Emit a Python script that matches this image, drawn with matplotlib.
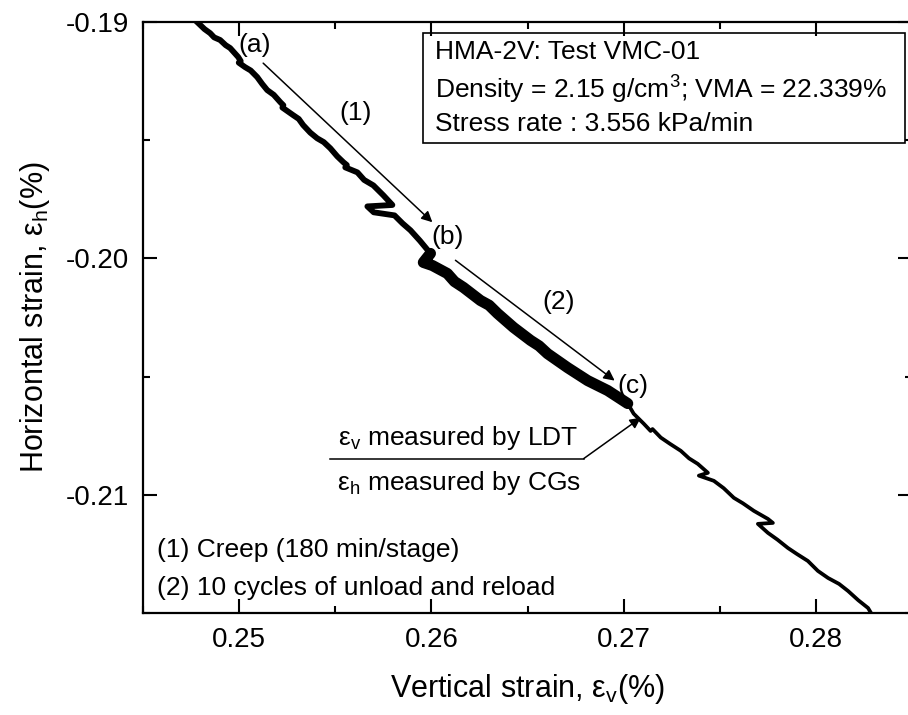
#Grafica de deformacion horizontal vs vertical (ensayo VMC-01)
import matplotlib
matplotlib.use("Agg")
import matplotlib.pyplot as plt
from matplotlib.patches import Rectangle
from matplotlib.ticker import MultipleLocator, FormatStrFormatter

#----------------------------Datos------------------------
#Etapa (1): creep, de (a) a (b)
ev_creep = [0.24775, 0.24820, 0.24849, 0.24870, 0.24901, 0.24930, 0.24953, 0.24995, 0.25008,
            0.24998, 0.25031, 0.25060, 0.25094, 0.25120, 0.25146, 0.25180, 0.25214, 0.25230,
            0.25225, 0.25281, 0.25310, 0.25333, 0.25370, 0.25406, 0.25440, 0.25474, 0.25510,
            0.25542, 0.25560, 0.25552, 0.25615, 0.25650, 0.25698, 0.2575, 0.25797, 0.25667,
            0.25700, 0.25808, 0.25850, 0.25891, 0.25940, 0.25995]
eh_creep = [-0.18995, -0.19030, -0.19047, -0.19065, -0.19076, -0.19098, -0.19110, -0.19148, -0.19165,
            -0.19172, -0.19191, -0.19205, -0.19233, -0.19262, -0.19288, -0.19308, -0.19339, -0.19352,
            -0.19362, -0.19394, -0.19410, -0.19436, -0.19468, -0.19492, -0.19508, -0.19534, -0.19568,
            -0.19593, -0.19605, -0.19615, -0.19636, -0.19668, -0.19691, -0.19733, -0.19774, -0.19780,
            -0.19805, -0.19818, -0.19852, -0.19881, -0.19925, -0.19979]

#Etapa (2): 10 ciclos de descarga y recarga, de (b) a (c)
ev_ciclos = [0.25995, 0.25958, 0.26005, 0.26083, 0.26120, 0.26167, 0.26255, 0.26300,
             0.26344, 0.26427, 0.26516, 0.26560, 0.26604, 0.26708, 0.26813, 0.26917, 0.27021]
eh_ciclos = [-0.19979, -0.20017, -0.20030, -0.20064, -0.20098, -0.20123, -0.20178, -0.20198,
             -0.20233, -0.20292, -0.20347, -0.20370, -0.20403, -0.20462, -0.20517, -0.20559, -0.20614]

#Despues de (c)
ev_final = [0.27021, 0.27052, 0.27104, 0.27140, 0.27150, 0.27193, 0.27240, 0.27297, 0.27340,
            0.27385, 0.27438, 0.27391, 0.27469, 0.27520, 0.27573, 0.27620, 0.27677, 0.2775,
            0.27776, 0.27698, 0.2775, 0.27800, 0.27854, 0.27900, 0.27958, 0.28010, 0.28063,
            0.28120, 0.28167, 0.28220, 0.28271, 0.28290]
eh_final = [-0.20614, -0.20657, -0.20699, -0.20730, -0.20722, -0.20758, -0.20784, -0.20814, -0.20846,
            -0.20869, -0.20907, -0.20919, -0.20941, -0.20972, -0.21013, -0.21036, -0.21068, -0.21102,
            -0.21119, -0.21123, -0.21161, -0.21190, -0.21225, -0.21250, -0.21280, -0.21322, -0.21352,
            -0.21377, -0.21407, -0.21446, -0.21479, -0.21505]

marcas_x = [0.25, 0.26, 0.27, 0.28]
marcas_y = [-0.21, -0.20, -0.19]

#----------------------------Estilo------------------------
plt.rcParams['font.family'] = ['Liberation Sans', 'DejaVu Sans']
plt.rcParams['mathtext.fontset'] = 'custom'
plt.rcParams['mathtext.rm'] = 'Liberation Sans'
plt.rcParams['mathtext.it'] = 'Liberation Sans:italic'
plt.rcParams['axes.unicode_minus'] = False

fig = plt.figure(figsize=(9.08, 7.15), dpi=100)
ax = fig.add_axes([0.1575, 0.1427, 0.847, 0.8265])

#curva principal
ax.plot(ev_creep, eh_creep, color='black', lw=4.2, solid_joinstyle='round')
ax.plot(ev_ciclos, eh_ciclos, color='black', lw=8, solid_joinstyle='round', solid_capstyle='round')
ax.plot(ev_final, eh_final, color='black', lw=2.7, solid_joinstyle='round')

ax.set_xlim(0.245, 0.285)
ax.set_ylim(-0.215, -0.19)
ax.set_xticks(marcas_x)
ax.set_yticks(marcas_y)
ax.xaxis.set_minor_locator(MultipleLocator(0.005))
ax.yaxis.set_minor_locator(MultipleLocator(0.005))
ax.xaxis.set_major_formatter(FormatStrFormatter('%.2f'))
ax.yaxis.set_major_formatter(FormatStrFormatter('%.2f'))
ax.tick_params(which='both', direction='in', top=True, right=True, width=1.5)
ax.tick_params(which='major', length=10, labelsize=20, pad=10)
ax.tick_params(which='minor', length=5)
for lado in ax.spines.values():
    lado.set_linewidth(1.6)

ax.set_xlabel(r'Vertical strain, $\mathrm{\varepsilon_v}$(%)', fontsize=22, labelpad=14)
ax.set_ylabel(r'Horizontal strain, $\mathrm{\varepsilon_h}$(%)', fontsize=22, labelpad=10)

#----------------------------Anotaciones------------------------
flecha = dict(arrowstyle='-|>', color='black', lw=1.1, mutation_scale=16, shrinkA=0, shrinkB=0)
ax.text(0.25083, -0.19097, '(a)', fontsize=19, ha='center', va='center')
ax.annotate('', xy=(0.26005, -0.19847), xytext=(0.25125, -0.19174), arrowprops=flecha)
ax.text(0.25604, -0.19386, '(1)', fontsize=19, ha='center', va='center')
ax.text(0.26083, -0.19911, '(b)', fontsize=19, ha='center', va='center')
ax.annotate('', xy=(0.26953, -0.20517), xytext=(0.26125, -0.20008), arrowprops=flecha)
ax.text(0.26661, -0.20186, '(2)', fontsize=19, ha='center', va='center')
ax.text(0.27047, -0.20538, '(c)', fontsize=19, ha='center', va='center')

#linea de las etiquetas LDT / CGs
ax.plot([0.25474, 0.26792], [-0.20847, -0.20847], color='black', lw=1.1)
ax.annotate('', xy=(0.27089, -0.20674), xytext=(0.26792, -0.20847), arrowprops=flecha)
ax.text(0.26141, -0.20758, r'$\mathrm{\varepsilon_v}$ measured by LDT', fontsize=19, ha='center', va='center')
ax.text(0.26141, -0.20949, r'$\mathrm{\varepsilon_h}$ measured by CGs', fontsize=19, ha='center', va='center')

#cuadro de informacion del ensayo
ax.add_patch(Rectangle((0.364, 0.795), 0.627, 0.186, transform=ax.transAxes,
                       fill=False, edgecolor='black', lw=1.2))
ax.text(0.380, 0.949, 'HMA-2V: Test VMC-01', transform=ax.transAxes, fontsize=19, va='center')
ax.text(0.380, 0.885, r'Density = 2.15 g/cm$^3$; VMA = 22.339%', transform=ax.transAxes, fontsize=19, va='center')
ax.text(0.380, 0.827, 'Stress rate : 3.556 kPa/min', transform=ax.transAxes, fontsize=19, va='center')

#leyenda de etapas
ax.text(0.018, 0.107, '(1) Creep (180 min/stage)', transform=ax.transAxes, fontsize=19, va='center')
ax.text(0.018, 0.042, '(2) 10 cycles of unload and reload', transform=ax.transAxes, fontsize=19, va='center')

fig.savefig('out.png', dpi=100)
